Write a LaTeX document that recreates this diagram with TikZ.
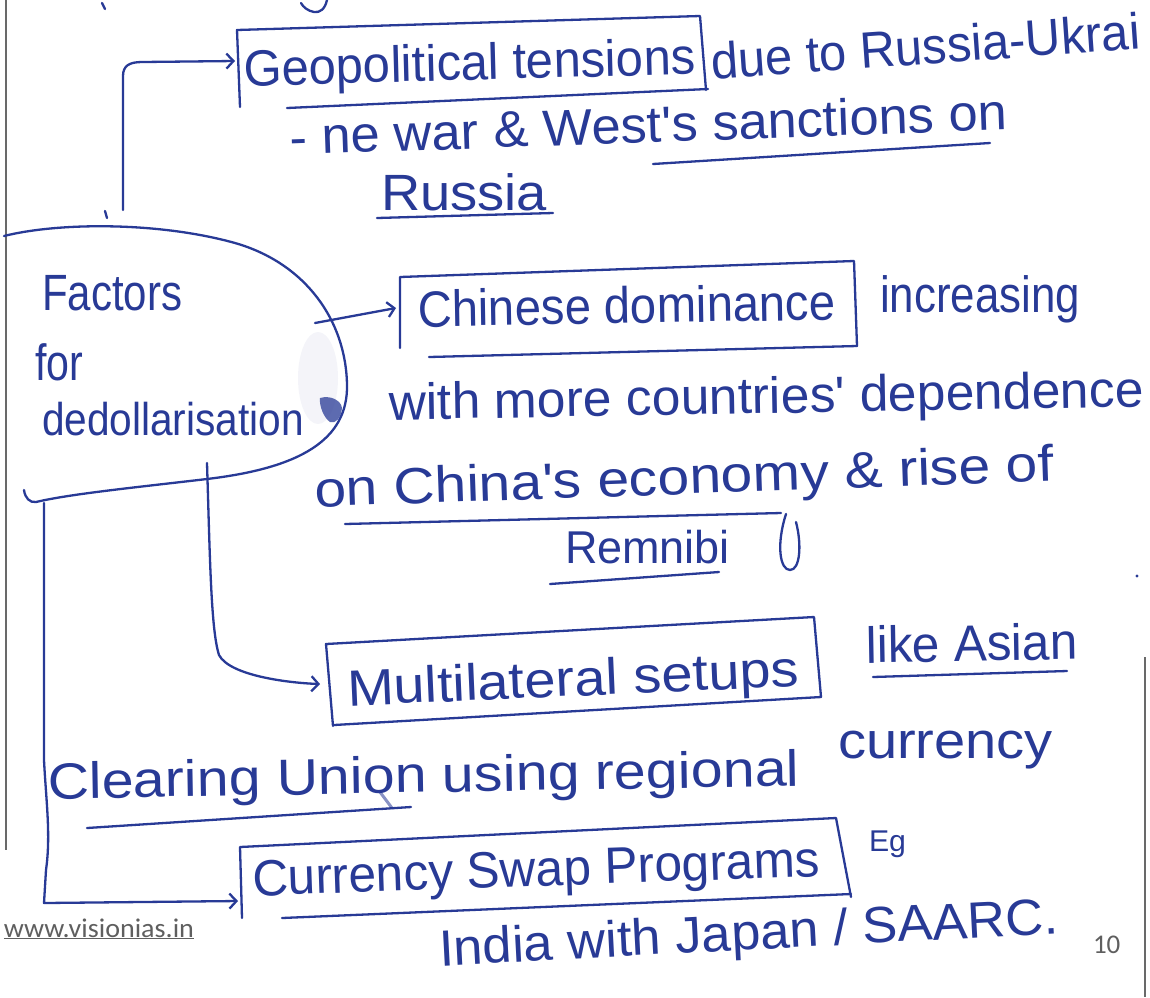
\documentclass[tikz,border=0pt]{standalone}
\usepackage{fontspec}
\usetikzlibrary{arrows.meta}
\newfontfamily\handfont{Liberation Sans}
\newfontfamily\printfont{Carlito}
\definecolor{ink}{RGB}{40,58,150}
\definecolor{pagegray}{RGB}{105,105,105}
\definecolor{footgray}{RGB}{95,95,95}
% handwritten line: natural height at 51pt, stretched to a given width
\newcommand{\hw}[2]{\resizebox{#1pt}{\height}{\fontsize{51}{55}\handfont #2}}
\newcommand{\hwsmall}[2]{\resizebox{#1pt}{\height}{\fontsize{46}{50}\handfont #2}}
\begin{document}
\begin{tikzpicture}[x=1pt,y=1pt,
  hand/.style={text=ink, anchor=base west, inner sep=0pt, outer sep=0pt},
  foot/.style={text=footgray, anchor=base west, inner sep=0pt, outer sep=0pt},
  pen/.style={draw=ink, line width=2.3pt, line cap=round, line join=round},
  arr/.style={pen, -{Straight Barb[length=7pt,width=15pt]}},
  pageedge/.style={draw=pagegray, line width=2.4pt}]
\fill[white] (0,-997) rectangle (1150,0);
\useasboundingbox (0,-997) rectangle (1150,0);

% page edges
\draw[pageedge] (6,0) -- (6,-850);
\draw[pageedge] (1145,-657) -- (1145,-997);

% end of the previous line, cut off at the top
\draw[pen] (327,0) .. controls (325,-9) and (320,-13) .. (314,-12) .. controls (308,-11) and (303,-7) .. (301,-3);
\draw[pen] (102,-3) -- (105,-9);

% ---------- Geopolitical tensions ----------
\coordinate (geo-in) at (235,-61);
\draw[pen] (240,-107) -- (237,-30) -- (700,-16) -- (706,-90);
\draw[pen] (287,-108) -- (708,-89);
\node[hand, rotate=1.5] (geo) at (244,-86) {\hw{452}{Geopolitical tensions}};
\node[hand, rotate=4] (geo2) at (712,-79) {\hw{430}{due to Russia-Ukrai}};
\node[hand, rotate=2] (geo3) at (290,-155) {\hw{718}{- ne war \& West's sanctions on}};
\draw[pen] (653,-164) -- (990,-143);
\node[hand] (geo4) at (381,-210) {\hw{166}{Russia}};
\draw[pen] (377,-218) -- (553,-213);

% ---------- central shape ----------
\draw[pen] (4,-236) .. controls (60,-222) and (160,-222) .. (235,-243)
  .. controls (305,-263) and (346,-320) .. (347,-385)
  .. controls (348,-440) and (300,-468) .. (207,-479)
  .. controls (130,-488) and (70,-494) .. (36,-502)
  .. controls (30,-503) and (25,-498) .. (24,-490);
\fill[ink, opacity=.05] (318,-378) ellipse [x radius=20, y radius=46];
\fill[ink, opacity=.75] (320,-398) .. controls (330,-395) and (341,-400) .. (342,-408)
  .. controls (341,-418) and (336,-424) .. (330,-422) .. controls (324,-418) and (319,-406) .. cycle;
\node[hand] (fac1) at (42,-310) {\hw{140}{Factors}};
\node[hand] (fac2) at (35,-380) {\hw{48}{for}};
\node[hand] (fac3) at (42,-435) {\hwsmall{262}{dedollarisation}};
\draw[pen] (105,-211) -- (107,-218);

\coordinate (fac-top) at (123,-210);
\coordinate (fac-right) at (315,-323);
\coordinate (fac-bottom) at (207,-463);
\coordinate (fac-left) at (44,-503);

% ---------- Chinese dominance ----------
\coordinate (chn-in) at (396,-308);
\draw[pen] (400,-348) -- (400,-277) -- (854,-261) -- (857,-346);
\draw[pen] (429,-357) -- (857,-346);
\node[hand, rotate=1] (chn) at (418,-327) {\hw{418}{Chinese dominance}};
\node[hand] (chn2) at (880,-312) {\hw{200}{increasing}};
\node[hand, rotate=1] (chn3) at (389,-420) {\hw{755}{with more countries' dependence}};
\node[hand, rotate=2] (chn4) at (315,-507) {\hw{740}{on China's economy \& rise of}};
\draw[pen] (345,-524) -- (781,-513);
\draw[pen] (786,-514) .. controls (776,-545) and (780,-570) .. (790,-570)
  .. controls (800,-570) and (802,-545) .. (796,-522);
\node[hand] (chn5) at (565,-563) {\hwsmall{165}{Remnibi}};
\draw[pen] (550,-584) -- (719,-572);
\fill[ink] (1137,-576) circle (1.6);

% ---------- Multilateral setups ----------
\coordinate (mul-in) at (320,-684);
\draw[pen] (333,-726) -- (326,-644) -- (814,-617) -- (821,-697);
\draw[pen] (334,-725) -- (821,-697);
\node[hand, rotate=2.5] (mul) at (348,-706) {\hw{452}{Multilateral setups}};
\node[hand, rotate=1] (mul2) at (866,-663) {\hw{212}{like Asian}};
\draw[pen] (873,-677) -- (1067,-671);
\node[hand] (mul3) at (838,-758) {\hw{215}{currency}};
\node[hand, rotate=1] (mul4) at (48,-799) {\hw{752}{Clearing Union using regional}};
\draw[pen] (87,-828) -- (411,-807);
\draw[ink, line width=3pt, opacity=.55, line cap=round] (380,-792) -- (392,-808);

% ---------- Currency Swap Programs ----------
\coordinate (swp-in) at (238,-901);
\draw[pen] (242,-918) -- (240,-847) -- (836,-818) -- (851,-897);
\draw[pen] (282,-918) -- (851,-894);
\node[hand, rotate=2] (swp) at (253,-896) {\hw{568}{Currency Swap Programs}};
\node[hand] (swp2) at (869,-851) {\resizebox{37pt}{\height}{\fontsize{30}{32}\handfont Eg}};
\node[hand, rotate=3] (swp3) at (440,-966) {\hw{620}{India with Japan / SAARC.}};

% ---------- connectors ----------
\draw[arr] (fac-top) -- (123,-76) .. controls (123,-66) and (129,-62) .. (142,-62) -- (geo-in);
\draw[arr] (fac-right) -- (chn-in);
\draw[arr] (fac-bottom) .. controls (210,-560) and (211,-630) .. (219,-655)
  .. controls (230,-676) and (290,-683) .. (mul-in);
\draw[arr] (fac-left) -- (44,-760) .. controls (46,-800) and (51,-835) .. (46,-870)
  -- (44,-903) -- (swp-in);

% ---------- footer ----------
\node[foot] (site) at (4,-937) {\resizebox{190pt}{\height}{\fontsize{27}{29}\printfont\underline{www.visionias.in}}};
\node[foot] (page) at (1093,-953) {\fontsize{27}{29}\printfont 10};
\end{tikzpicture}
\end{document}
